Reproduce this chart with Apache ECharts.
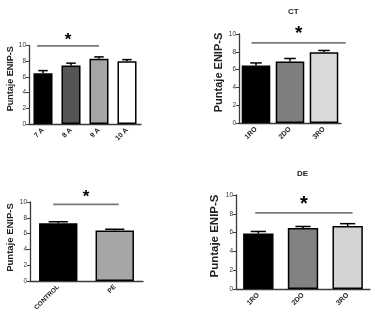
<!DOCTYPE html>
<html>
<head>
<meta charset="utf-8">
<script src="https://cdn.jsdelivr.net/npm/echarts@6/dist/echarts.min.js"></script>
<style>
  html, body { margin: 0; padding: 0; background: #fff; }
  #chart { width: 375px; height: 323px; }
</style>
</head>
<body>
<div id="chart"></div>
<script>
// ---- Data ----
const yTicks = [0, 2, 4, 6, 8, 10];
const yName = 'Puntaje ENIP-S';

// Panel 1: by age
const ageCategories = ['7 A', '8 A', '9 A', '10 A'];
const ageMeans = [6.45, 7.45, 8.3, 8.0];
const ageErrors = [0.35, 0.3, 0.25, 0.2];
const ageColors = ['#000000', '#555555', '#a5a5a5', '#ffffff'];
const ageSigSpan = [-0.21, 2.0];
const ageSigLevel = 9.95;

// Panel 2: CT by school year
const ctTitle = 'CT';
const ctCategories = ['1RO', '2DO', '3RO'];
const ctMeans = [6.45, 6.9, 7.95];
const ctErrors = [0.3, 0.35, 0.2];
const ctColors = ['#000000', '#7f7f7f', '#d9d9d9'];
const ctSigSpan = [-0.13, 2.64];
const ctSigLevel = 9.0;

// Panel 3: control vs PE
const groupCategories = ['CONTROL', 'PE'];
const groupMeans = [7.3, 6.4];
const groupErrors = [0.2, 0.15];
const groupColors = ['#000000', '#a6a6a6'];
const groupSigSpan = [-0.09, 1.07];
const groupSigLevel = 9.7;

// Panel 4: DE by school year
const deTitle = 'DE';
const deCategories = ['1RO', '2DO', '3RO'];
const deMeans = [5.9, 6.5, 6.7];
const deErrors = [0.22, 0.15, 0.25];
const deColors = ['#000000', '#828282', '#d4d4d4'];
const deSigSpan = [-0.07, 2.11];
const deSigLevel = 8.1;

const sigSymbol = '*';

// ---- Layout / styles ----
const FONT = '"Liberation Sans", Arial, sans-serif';
const panels = [
  { cats: ageCategories, means: ageMeans, errs: ageErrors, colors: ageColors, span: ageSigSpan, level: ageSigLevel,
    grid: { left: 29, top: 45.5, width: 112, height: 78.5 }, barWidth: '68%', xFont: 7, nameFont: 9, nameGap: 14, namePad: 12, starSize: 17, starOff: 6 },
  { cats: ctCategories, means: ctMeans, errs: ctErrors, colors: ctColors, span: ctSigSpan, level: ctSigLevel,
    grid: { left: 239, top: 34, width: 102, height: 89 }, barWidth: '84%', xFont: 7, nameFont: 11, nameGap: 15, namePad: 12, starSize: 19, starOff: 9 },
  { cats: groupCategories, means: groupMeans, errs: groupErrors, colors: groupColors, span: groupSigSpan, level: groupSigLevel,
    grid: { left: 30, top: 202, width: 113, height: 79 }, barWidth: '68%', xFont: 6.5, nameFont: 9.5, nameGap: 14, namePad: 8, starSize: 17, starOff: 7 },
  { cats: deCategories, means: deMeans, errs: deErrors, colors: deColors, span: deSigSpan, level: deSigLevel,
    grid: { left: 236, top: 195, width: 134, height: 94 }, barWidth: '68%', xFont: 7, nameFont: 11.5, nameGap: 15, namePad: 12, starSize: 20, starOff: 8 }
];

const AXIS_COLOR = '#3a3a3a';
const grids = [], xAxes = [], yAxes = [], series = [];

panels.forEach((p, i) => {
  grids.push(Object.assign({ containLabel: false }, p.grid));
  xAxes.push({
    type: 'category', gridIndex: i, data: p.cats,
    axisLine: { lineStyle: { color: AXIS_COLOR, width: 1.3 } },
    axisTick: { alignWithLabel: true, length: 3, lineStyle: { color: AXIS_COLOR, width: 1 } },
    axisLabel: { rotate: 45, fontSize: p.xFont, fontFamily: FONT, fontWeight: 'bold', color: '#222', margin: 5, interval: 0 }
  });
  yAxes.push({
    type: 'value', gridIndex: i, min: yTicks[0], max: yTicks[yTicks.length - 1], interval: yTicks[1] - yTicks[0],
    name: yName, nameLocation: 'middle', nameGap: p.nameGap,
    nameTextStyle: { fontSize: p.nameFont, fontFamily: FONT, fontWeight: 'bold', color: '#222', padding: [0, 0, 0, p.namePad] },
    axisLine: { show: true, lineStyle: { color: AXIS_COLOR, width: 1.3 } },
    axisTick: { show: true, length: 3, lineStyle: { color: AXIS_COLOR, width: 1 } },
    axisLabel: { fontSize: 6.5, fontFamily: FONT, color: '#333', margin: 3 },
    splitLine: { show: false }
  });
  series.push({
    type: 'bar', xAxisIndex: i, yAxisIndex: i, barWidth: p.barWidth,
    data: p.means.map((v, k) => ({ value: v, itemStyle: { color: p.colors[k] } })),
    itemStyle: { borderColor: '#000', borderWidth: 1.5 },
    silent: true, animation: false
  });
  // error bars (upper only, GraphPad style)
  series.push({
    type: 'custom', xAxisIndex: i, yAxisIndex: i, silent: true, animation: false, z: 3,
    data: p.means.map((v, k) => [k, v, v + p.errs[k]]),
    encode: { x: 0, y: [1, 2] },
    renderItem: function (params, api) {
      const x = api.value(0);
      const base = api.coord([x, api.value(1)]);
      const top = api.coord([x, api.value(2)]);
      const half = api.size([1, 0])[0] * 0.17;
      return {
        type: 'group',
        children: [
          { type: 'line', shape: { x1: base[0], y1: base[1], x2: top[0], y2: top[1] }, style: { stroke: '#000', lineWidth: 1.5 } },
          { type: 'line', shape: { x1: top[0] - half, y1: top[1], x2: top[0] + half, y2: top[1] }, style: { stroke: '#000', lineWidth: 1.5 } }
        ]
      };
    }
  });
  // significance line with asterisk
  series.push({
    type: 'custom', xAxisIndex: i, yAxisIndex: i, silent: true, animation: false, z: 4, clip: false,
    data: [[0, p.level, p.span[0], p.span[1]]],
    encode: { x: 0, y: 1 },
    renderItem: function (params, api) {
      const c0 = api.coord([0, api.value(1)]);
      const band = api.size([1, 0])[0];
      const x1 = c0[0] + api.value(2) * band;
      const x2 = c0[0] + api.value(3) * band;
      const y = c0[1];
      return {
        type: 'group',
        children: [
          { type: 'line', shape: { x1: x1, y1: y, x2: x2, y2: y }, style: { stroke: '#7a7a7a', lineWidth: 1.6 } },
          { type: 'text', x: (x1 + x2) / 2, y: y - p.starOff,
            style: { text: sigSymbol, fontSize: p.starSize, fontWeight: 'bold', fontFamily: FONT, fill: '#000', align: 'center', verticalAlign: 'middle' } }
        ]
      };
    }
  });
});

const chart = echarts.init(document.getElementById('chart'), null, { renderer: 'canvas' });
chart.setOption({
  backgroundColor: '#ffffff',
  animation: false,
  title: [
    { text: ctTitle, left: 283, top: 3, textStyle: { fontSize: 8, fontWeight: 'bold', fontFamily: FONT, color: '#222' } },
    { text: deTitle, left: 292, top: 165, textStyle: { fontSize: 8, fontWeight: 'bold', fontFamily: FONT, color: '#222' } }
  ],
  grid: grids, xAxis: xAxes, yAxis: yAxes, series: series
});
</script>
</body>
</html>
